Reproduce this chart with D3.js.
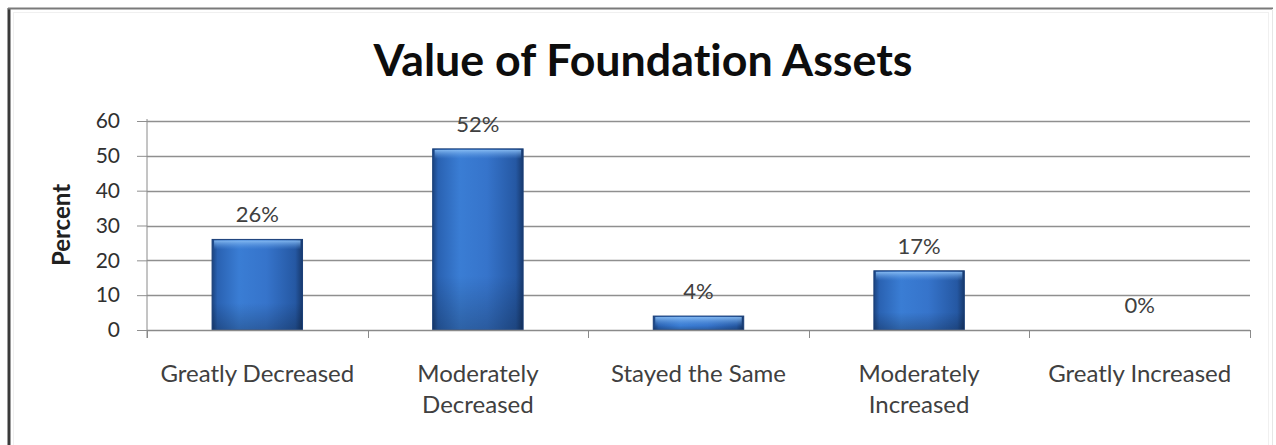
<!DOCTYPE html>
<html>
<head>
<meta charset="utf-8">
<script src="https://cdn.jsdelivr.net/npm/d3@7"></script>
<style>
  html, body { margin: 0; padding: 0; background: #ffffff; }
  svg { display: block; }
  text { font-variant-ligatures: none; font-feature-settings: "liga" 0; }
</style>
</head>
<body>
<svg id="chart" width="1276" height="445"></svg>
<script>
const categories = ["Greatly Decreased", "Moderately Decreased", "Stayed the Same", "Moderately Increased", "Greatly Increased"];
const categoryLines = [["Greatly Decreased"], ["Moderately", "Decreased"], ["Stayed the Same"], ["Moderately", "Increased"], ["Greatly Increased"]];
const values = [26, 52, 4, 17, 0];
const yTicks = [0, 10, 20, 30, 40, 50, 60];
const title = "Value of Foundation Assets";
const yTitle = "Percent";

const svg = d3.select("#chart");
const W = 1276, H = 445;
const plot = { left: 147, right: 1250, top: 121, bottom: 330 };
const FONT = "'Lato', 'Open Sans', sans-serif";

// frame
svg.append("rect").attr("x", 0).attr("y", 0).attr("width", W).attr("height", H).attr("fill", "#ffffff");
svg.append("line").attr("x1", 9).attr("x2", 9).attr("y1", 8).attr("y2", H).attr("stroke", "#3a3a3a").attr("stroke-width", 3);
svg.append("line").attr("x1", 8).attr("x2", 1273).attr("y1", 8.5).attr("y2", 8.5).attr("stroke", "#7a7a7a").attr("stroke-width", 2);
svg.append("line").attr("x1", 1272.5).attr("x2", 1272.5).attr("y1", 9).attr("y2", H).attr("stroke", "#e6e6e6").attr("stroke-width", 1);
svg.append("rect").attr("x", 13.5).attr("y", 12.5).attr("width", 1255).attr("height", H).attr("fill", "none").attr("stroke", "#f0f0f0").attr("stroke-width", 1);

const x = d3.scaleBand().domain(categories).range([plot.left, plot.right]).paddingInner(0.59).paddingOuter(0.295);
const y = d3.scaleLinear().domain([0, 60]).range([plot.bottom, plot.top]);

// defs: bar gradients
const defs = svg.append("defs");
const gH = defs.append("linearGradient").attr("id", "barH").attr("x1", "0").attr("x2", "1").attr("y1", "0").attr("y2", "0");
[["0%", "#1b437f"], ["6%", "#2a62b2"], ["30%", "#3a7dd4"], ["60%", "#3674cb"], ["92%", "#2558a3"], ["100%", "#17396d"]]
  .forEach(([o, c]) => gH.append("stop").attr("offset", o).attr("stop-color", c));
const gV = defs.append("linearGradient").attr("id", "barV").attr("x1", "0").attr("x2", "0").attr("y1", "0").attr("y2", "1");
[["0%", "#000", 0], ["70%", "#000", 0], ["100%", "#000", 0.22]]
  .forEach(([o, c, a]) => gV.append("stop").attr("offset", o).attr("stop-color", c).attr("stop-opacity", a));
const gT = defs.append("linearGradient").attr("id", "barTop").attr("x1", "0").attr("x2", "0").attr("y1", "0").attr("y2", "1");
[["0%", "#8cc0f5", 0.9], ["100%", "#5b98e3", 0]]
  .forEach(([o, c, a]) => gT.append("stop").attr("offset", o).attr("stop-color", c).attr("stop-opacity", a));

// y axis
const yAxis = d3.axisLeft(y).tickValues(yTicks).tickSize(10).tickPadding(17).tickFormat(d3.format("d"));
const gy = svg.append("g").attr("transform", `translate(${plot.left},0)`).call(yAxis);
gy.select(".domain").attr("stroke", "#8a8a8a").attr("d", `M0,${plot.top - 2}V${plot.bottom + 8}`);
gy.selectAll(".tick line").attr("stroke", "#8f8f8f");
gy.selectAll(".tick text").attr("fill", "#303030").style("font-family", FONT).style("font-size", "21px");

// gridlines
svg.append("g").selectAll("line").data(yTicks.filter(d => d > 0)).join("line")
  .attr("x1", plot.left).attr("x2", plot.right)
  .attr("y1", d => Math.round(y(d)) + 0.5).attr("y2", d => Math.round(y(d)) + 0.5)
  .attr("stroke", "#8f8f8f").attr("stroke-width", 1.3);

// bars
const bars = svg.append("g");
categories.forEach((c, i) => {
  const v = values[i];
  if (v <= 0) return;
  const bx = x(c), bw = x.bandwidth(), by = y(v), bh = y(0) - y(v);
  bars.append("rect").attr("x", bx).attr("y", by).attr("width", bw).attr("height", bh).attr("fill", "url(#barH)");
  bars.append("rect").attr("x", bx).attr("y", by).attr("width", bw).attr("height", bh).attr("fill", "url(#barV)");
  bars.append("rect").attr("x", bx + 2).attr("y", by + 1).attr("width", bw - 4).attr("height", Math.min(9, bh - 2)).attr("fill", "url(#barTop)");
  bars.append("rect").attr("x", bx).attr("y", by).attr("width", bw).attr("height", bh).attr("fill", "none").attr("stroke", "#1a3f78").attr("stroke-width", 1);
});

// x axis line and boundary ticks
svg.append("line").attr("x1", plot.left).attr("x2", plot.right).attr("y1", plot.bottom + 0.5).attr("y2", plot.bottom + 0.5).attr("stroke", "#8a8a8a").attr("stroke-width", 1.3);
const bounds = categories.map(c => x(c) - x.step() * x.paddingInner() / 2).concat([plot.right]);
svg.append("g").selectAll("line").data(bounds).join("line")
  .attr("x1", d => Math.round(d) + 0.5).attr("x2", d => Math.round(d) + 0.5)
  .attr("y1", plot.bottom).attr("y2", plot.bottom + 8).attr("stroke", "#8a8a8a");

// category labels
const xl = svg.append("g").style("font-family", FONT).style("font-size", "24px").attr("fill", "#404040").attr("text-anchor", "middle");
categories.forEach((c, i) => {
  const cx = x(c) + x.bandwidth() / 2;
  const t = xl.append("text").attr("x", cx).attr("y", 382);
  categoryLines[i].forEach((ln, j) => t.append("tspan").attr("x", cx).attr("dy", j === 0 ? 0 : 31).text(ln));
});

// data labels
svg.append("g").selectAll("text").data(categories).join("text")
  .attr("x", c => x(c) + x.bandwidth() / 2)
  .attr("y", (c, i) => y(values[i]) - 17)
  .attr("text-anchor", "middle")
  .attr("fill", "#404040")
  .style("font-family", FONT).style("font-size", "22px")
  .text((c, i) => values[i] + "%");

// y title
svg.append("text").attr("transform", "translate(70,225) rotate(-90)").attr("text-anchor", "middle")
  .style("font-family", FONT).style("font-size", "24px").style("font-weight", "bold").attr("fill", "#202020")
  .text(yTitle);

// title
svg.append("text").attr("x", 643).attr("y", 76).attr("text-anchor", "middle")
  .style("font-family", FONT).style("font-size", "44px").style("font-weight", "bold").attr("fill", "#0d0d0d")
  .attr("textLength", 539).attr("lengthAdjust", "spacingAndGlyphs")
  .text(title);
</script>
</body>
</html>
